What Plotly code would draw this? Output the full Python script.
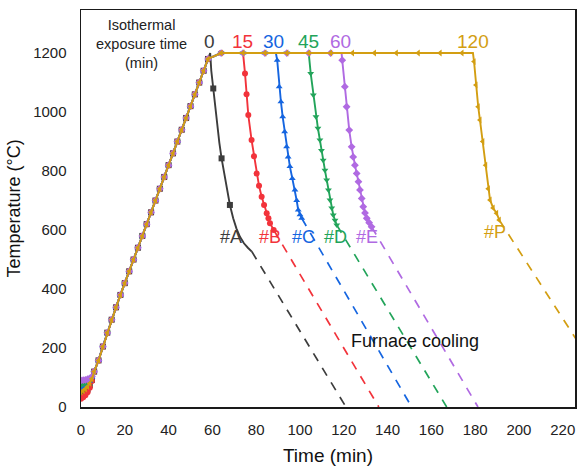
import plotly.graph_objects as go

# ---------------- data ----------------
start_t = [0, 1, 2, 3, 4, 5]
black_start_T = [40, 44, 51, 60, 74, 92]
red_start_T = [28, 33, 40, 50, 65, 88]
blue_start_T = [62, 65, 70, 77, 87, 100]
green_start_T = [75, 77, 80, 85, 92, 102]
purple_start_T = [90, 91, 92, 94, 97, 103]
gold_start_T = [50, 55, 61, 69, 80, 96]

ramp_t = [6, 8, 10, 12, 14, 16, 18, 20, 22, 24, 26, 28, 30, 32, 34, 36, 38, 40,
          42, 44, 46, 48, 50, 52, 54, 56, 58]
ramp_T = [120, 158, 205, 252, 296, 338, 380, 420, 460, 500, 540, 580, 620, 660,
          700, 740, 780, 820, 860, 900, 940, 980, 1020, 1060, 1100, 1140, 1180]

plateau_t = [64, 74, 84, 94, 104, 114, 124, 134, 144, 154, 164, 174]
plateau_T = [1200, 1200, 1200, 1200, 1200, 1200, 1200, 1200, 1200, 1200, 1200, 1200]

# cooling (solid, measured)
black_cool_t = [59, 59.5, 60.4, 61.2, 62.2, 63.2, 64.2, 65.4, 66.7, 68.0, 69.5, 71.0,
                72.6, 74.4, 76.2, 78.0]
black_cool_T = [1200, 1140, 1080, 1020, 955, 895, 843, 790, 735, 685, 640, 605,
                577, 555, 540, 527]
black_mark_t = [60.4, 64.2, 68.0]
black_mark_T = [1080, 843, 685]

red_cool_t = [74, 74.9, 75.6, 76.4, 77.9, 79.0, 80.2, 81.3, 82.5, 83.6, 84.8, 85.6, 86.3, 88.0]
red_cool_T = [1200, 1131, 1060, 990, 905, 850, 792, 750, 713, 685, 657, 640, 623, 600]

blue_cool_t = [89, 89.6, 90.5, 91.3, 92.1, 93.0, 93.9, 94.6, 95.4, 96.5, 97.7, 98.5,
               99.2, 100.0, 100.8]
blue_cool_T = [1200, 1176, 1086, 1035, 984, 933, 882, 848, 815, 775, 736, 700,
               668, 652, 640]

green_cool_t = [104, 104.9, 106.1, 107.3, 108.2, 109.1, 109.8, 110.6, 111.4, 112.2,
                113.0, 113.7, 114.5, 115.2, 116.0, 116.8]
green_cool_T = [1200, 1131, 1058, 984, 945, 905, 870, 837, 803, 770, 736, 702,
                675, 651, 633, 617]

purple_cool_t = [119, 119.3, 120.5, 121.3, 122.5, 123.6, 124.3, 125.1, 125.9, 126.7,
                 127.4, 128.2, 128.9, 129.7, 130.5, 131.6, 132.7]
purple_cool_T = [1200, 1176, 1086, 1018, 939, 882, 848, 820, 792, 764, 736, 707,
                 679, 658, 640, 625, 611]

gold_cool_t = [179, 179.5, 180.4, 181.4, 182.2, 183.5, 184.8, 186.0, 186.8, 188.2,
               189.8, 191.0]
gold_cool_T = [1200, 1171, 1092, 1018, 973, 900, 820, 740, 702, 675, 657, 634]

# furnace cooling (dashed) end points
black_dash_t = [78.0, 121.0]
black_dash_T = [527, 0]
red_dash_t = [88.0, 136.0]
red_dash_T = [600, 0]
blue_dash_t = [100.8, 151.0]
blue_dash_T = [640, 0]
green_dash_t = [116.8, 167.0]
green_dash_T = [617, 0]
purple_dash_t = [132.7, 181.3]
purple_dash_T = [611, 0]
gold_dash_t = [191.0, 230.0]
gold_dash_T = [634, 185]

hold_labels = ["0", "15", "30", "45", "60", "120"]
hold_label_t = [58.9, 73.6, 88.0, 103.8, 118.5, 179.1]
hold_label_T = [1238, 1238, 1238, 1238, 1238, 1238]

sample_labels = ["#A", "#B", "#C", "#D", "#E", "#P"]
sample_label_t = [68.7, 86.3, 101.8, 116.2, 130.8, 189.0]
sample_label_T = [575, 575, 575, 575, 575, 592]

# ---------------- styling ----------------
FONT = "Liberation Sans, Arial, sans-serif"
colors = {"black": "#3c3c3c", "red": "#f2333b", "blue": "#1565e0",
          "green": "#22a45a", "purple": "#b06ae2", "gold": "#d39e12"}
symbols = {"black": "square", "red": "circle", "blue": "triangle-up",
           "green": "triangle-down", "purple": "diamond", "gold": "triangle-left"}

series = [
    ("black", black_start_T, black_cool_t, black_cool_T, black_dash_t, black_dash_T),
    ("red", red_start_T, red_cool_t, red_cool_T, red_dash_t, red_dash_T),
    ("blue", blue_start_T, blue_cool_t, blue_cool_T, blue_dash_t, blue_dash_T),
    ("green", green_start_T, green_cool_t, green_cool_T, green_dash_t, green_dash_T),
    ("purple", purple_start_T, purple_cool_t, purple_cool_T, purple_dash_t, purple_dash_T),
    ("gold", gold_start_T, gold_cool_t, gold_cool_T, gold_dash_t, gold_dash_T),
]

fig = go.Figure()
for name, sT, ct, cT, dt, dT in series:
    c = colors[name]
    hold_end = ct[0]
    pl_t = [t for t in plateau_t if t < hold_end]
    pl_T = [plateau_T[i] for i, t in enumerate(plateau_t) if t < hold_end]
    path_t = start_t + ramp_t + pl_t + ct
    path_T = sT + ramp_T + pl_T + cT
    # dashed furnace-cooling extrapolation
    fig.add_trace(go.Scatter(x=dt, y=dT, mode="lines",
                             line=dict(color=c, width=1.7, dash="9px,8px"),
                             hoverinfo="skip"))
    # solid measured line
    fig.add_trace(go.Scatter(x=path_t, y=path_T, mode="lines",
                             line=dict(color=c, width=1.9), hoverinfo="skip"))
    # markers
    if name == "black":
        mt = start_t + ramp_t + black_mark_t
        mT = sT + ramp_T + black_mark_T
    else:
        mt = start_t + ramp_t + pl_t + ct[1:]
        mT = sT + ramp_T + pl_T + cT[1:]
    fig.add_trace(go.Scatter(x=mt, y=mT, mode="markers",
                             marker=dict(color=c, size=6, symbol=symbols[name],
                                         line=dict(width=0)),
                             hoverinfo="skip"))

label_colors = [colors[k] for k in ["black", "red", "blue", "green", "purple", "gold"]]
for txt, t, T, c in zip(hold_labels, hold_label_t, hold_label_T, label_colors):
    fig.add_annotation(x=t, y=T, text=txt, showarrow=False,
                       font=dict(family=FONT, size=19, color=c))
for txt, t, T, c in zip(sample_labels, sample_label_t, sample_label_T, label_colors):
    fig.add_annotation(x=t, y=T, text=txt, showarrow=False,
                       font=dict(family=FONT, size=18, color=c))

fig.add_annotation(x=27.5, y=1230, text="Isothermal<br>exposure time<br>(min)",
                   showarrow=False, font=dict(family=FONT, size=14.5, color="#222"))
fig.add_annotation(x=152.7, y=225, text="Furnace cooling", showarrow=False,
                   font=dict(family=FONT, size=18, color="#111"))

axis_common = dict(showgrid=False, zeroline=False, showline=True, mirror=True,
                   linecolor="#1a1a1a", linewidth=1.5, ticks="", automargin=False,
                   tickfont=dict(family=FONT, size=15, color="#222"))

fig.update_layout(
    width=577, height=470,
    margin=dict(l=81, r=2, t=10, b=63),
    paper_bgcolor="white", plot_bgcolor="white",
    showlegend=False,
    hovermode=False,
    xaxis=dict(range=[0, 225.6], tick0=0, dtick=20, ticklabelstandoff=8,
               title=dict(text="Time (min)", standoff=12,
                          font=dict(family=FONT, size=19, color="#111")),
               **axis_common),
    yaxis=dict(range=[0, 1346], tick0=0, dtick=200, ticklabelstandoff=10,
               title=dict(text="Temperature (°C)", standoff=8,
                          font=dict(family=FONT, size=18, color="#111")),
               **axis_common),
)

fig.write_html("out.html",
               config={"displayModeBar": False, "staticPlot": True},
               post_script="document.body.style.margin='0';"
                           "document.body.style.overflow='hidden';")
